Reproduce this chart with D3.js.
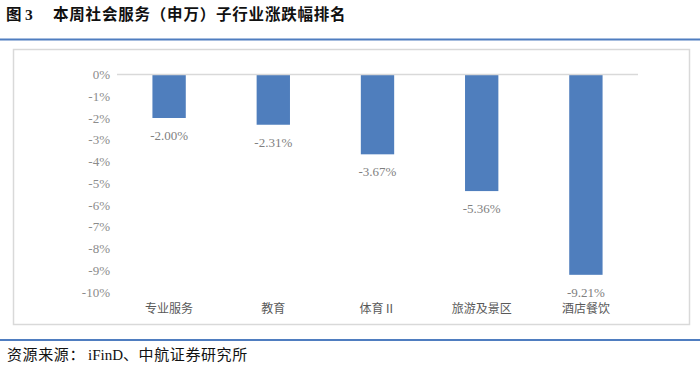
<!DOCTYPE html>
<meta charset="utf-8">
<style>
body { margin: 0; background: #fff; }
text { font-family: "Liberation Serif", "Times New Roman", serif; }
.cjk { font-family: "Noto Sans CJK SC", sans-serif; }
</style>
<svg width="700" height="368"></svg>
<script src="https://d3js.org/d3.v7.min.js"></script>
<script>

var categories = ["专业服务", "教育", "体育Ⅱ", "旅游及景区", "酒店餐饮"];
var changes = [-2.00, -2.31, -3.67, -5.36, -9.21];
var yTicks = [0, -1, -2, -3, -4, -5, -6, -7, -8, -9, -10];

var svg = d3.select("svg");

// title + rules
var title = svg.append("text")
    .attr("class", "cjk")
    .attr("y", 20)
    .style("font-size", "15.5px").style("font-weight", "bold").style("fill", "#111");
title.append("tspan").attr("x", 6).text("图");
title.append("tspan").attr("x", 25).style("font-family", "'Liberation Serif', serif").text("3");
title.append("tspan").attr("x", 53).style("letter-spacing", "0.8px").text("本周社会服务（申万）子行业涨跌幅排名");

svg.append("line")
    .attr("x1", 0).attr("x2", 700).attr("y1", 39.5).attr("y2", 39.5)
    .style("stroke", "#4F7DC0").style("stroke-width", 2);

svg.append("line")
    .attr("x1", 0).attr("x2", 700).attr("y1", 340).attr("y2", 340)
    .style("stroke", "#4F7DC0").style("stroke-width", 2);

var foot = svg.append("text")
    .attr("class", "cjk")
    .attr("x", 7).attr("y", 360)
    .style("font-size", "15px").style("fill", "#111").style("letter-spacing", "0.6px");
foot.append("tspan").text("资源来源：");
foot.append("tspan").attr("x", 88).style("font-family", "'Liberation Serif', serif").style("letter-spacing", "0").text("iFinD");
foot.append("tspan").text("、中航证券研究所");

// chart frame
svg.append("rect")
    .attr("x", 13.5).attr("y", 49.5).attr("width", 676).attr("height", 275)
    .style("fill", "#fff").style("stroke", "#d9d9d9").style("stroke-width", 1.5);

var x = d3.scaleBand()
    .domain(categories)
    .range([117, 638])
    .paddingInner(0.68)
    .paddingOuter(0.34);

var y = d3.scaleLinear()
    .domain([0, -10])
    .range([74.5, 292]);

// y axis labels
var yAxis = d3.axisLeft(y)
    .tickValues(yTicks)
    .tickSize(0)
    .tickPadding(0)
    .tickFormat(function(d) { return d + "%"; });

var gy = svg.append("g")
    .attr("transform", "translate(110,0)")
    .call(yAxis);
gy.select(".domain").remove();
gy.selectAll("text")
    .style("font-family", "'Liberation Serif', serif")
    .style("font-size", "13px")
    .style("fill", "#8c8c8c");

// bars
svg.selectAll("rect.bar")
    .data(changes)
    .enter().append("rect")
    .attr("class", "bar")
    .attr("x", function(d, i) { return x(categories[i]); })
    .attr("y", y(0))
    .attr("width", x.bandwidth())
    .attr("height", function(d) { return y(d) - y(0); })
    .style("fill", "#4F7EBD");

// zero line
svg.append("line")
    .attr("x1", 117).attr("x2", 638)
    .attr("y1", y(0)).attr("y2", y(0))
    .style("stroke", "#d9d9d9").style("stroke-width", 1.5);

// value labels
svg.selectAll("text.val")
    .data(changes)
    .enter().append("text")
    .attr("class", "val")
    .attr("x", function(d, i) { return x(categories[i]) + x.bandwidth() / 2; })
    .attr("y", function(d) { return y(d) + 22; })
    .attr("text-anchor", "middle")
    .style("font-size", "13px")
    .style("fill", "#7f7f7f")
    .text(function(d) { return d.toFixed(2) + "%"; });

// category labels
svg.selectAll("text.cat")
    .data(categories)
    .enter().append("text")
    .attr("class", "cat cjk")
    .attr("x", function(d) { return x(d) + x.bandwidth() / 2; })
    .attr("y", 313)
    .attr("text-anchor", "middle")
    .style("font-size", "12px")
    .style("fill", "#595959")
    .text(function(d) { return d; });

</script>
